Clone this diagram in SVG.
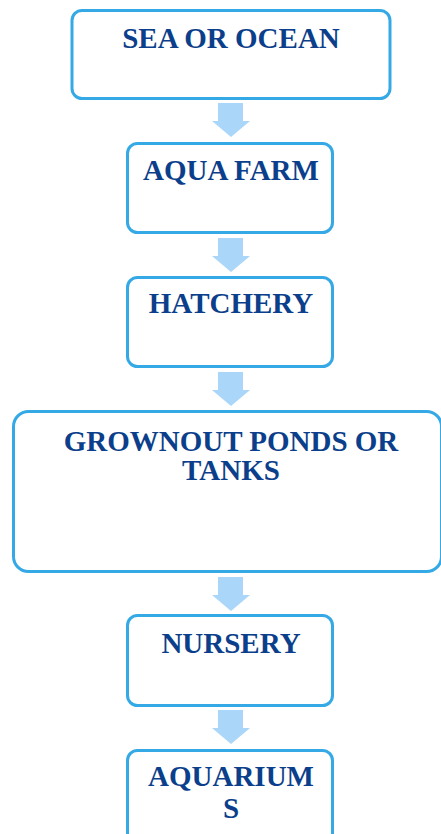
<svg xmlns="http://www.w3.org/2000/svg" width="441" height="834" viewBox="0 0 441 834">
<defs>
<style>
.box{fill:#ffffff;stroke:#35a9e6;stroke-width:3}
.lbl{font-family:"Liberation Serif","Times New Roman",serif;font-weight:bold;font-size:29px;fill:#0c3f8b;text-anchor:middle}
.arr{fill:#aad6fa}
</style>
<path id="dn" d="M-13,0 H12 V18 H19 L0,34 L-19,18 H-13 Z"/>
</defs>
<rect width="441" height="834" fill="#ffffff"/>
<g id="connectors">
<use href="#dn" class="arr" x="231" y="103"/>
<use href="#dn" class="arr" x="231" y="238"/>
<use href="#dn" class="arr" x="231" y="372"/>
<use href="#dn" class="arr" x="231" y="577"/>
<use href="#dn" class="arr" x="231" y="710"/>
</g>
<g id="sea">
<rect class="box" x="72" y="10.5" width="318" height="88" rx="10"/>
<text class="lbl" x="231" y="48">SEA OR OCEAN</text>
</g>
<g id="aquafarm">
<rect class="box" x="127.5" y="143.5" width="205" height="89" rx="10"/>
<text class="lbl" x="231" y="180">AQUA FARM</text>
</g>
<g id="hatchery">
<rect class="box" x="127.5" y="277.5" width="205" height="89" rx="10"/>
<text class="lbl" x="231" y="313">HATCHERY</text>
</g>
<g id="growout">
<rect class="box" x="13.5" y="411.5" width="428" height="160" rx="15"/>
<text class="lbl" x="231" y="451">GROWNOUT PONDS OR</text>
<text class="lbl" x="231" y="480">TANKS</text>
</g>
<g id="nursery">
<rect class="box" x="127.5" y="615.5" width="205" height="90" rx="10"/>
<text class="lbl" x="231" y="653">NURSERY</text>
</g>
<g id="aquariums">
<rect class="box" x="127.5" y="750.5" width="205" height="100" rx="10"/>
<text class="lbl" x="231" y="786">AQUARIUM</text>
<text class="lbl" x="231" y="818">S</text>
</g>
</svg>
